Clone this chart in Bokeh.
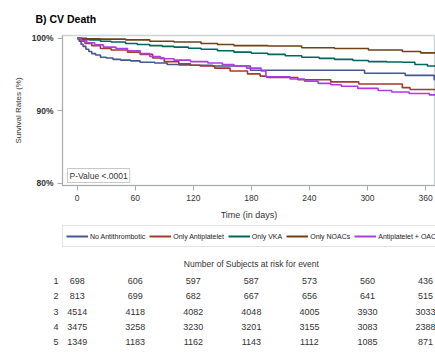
from bokeh.plotting import figure
from bokeh.models import Range1d, Label, Legend, LegendItem, FixedTicker
from bokeh.layouts import column
from bokeh.embed import file_html
from bokeh.resources import INLINE
from bokeh.core.properties import value

FONT = "Liberation Sans"

# ---- data ----
groups = ["No Antithrombotic", "Only Antiplatelet", "Only VKA", "Only NOACs", "Antiplatelet + OAC"]
colors = ["#445694", "#A23A2E", "#01665E", "#6E4216", "#AD3CE2"]

t_none = [0, 2, 4, 6, 9, 12, 15, 19, 24, 30, 37, 45, 55, 65, 80, 93, 105, 117, 140, 179, 297, 339, 369, 371]
s_none = [100, 99.6, 99.2, 98.9, 98.5, 98.2, 97.9, 97.7, 97.4, 97.3, 97.1, 97.0, 96.9, 96.7, 96.6, 96.4, 96.35, 96.3, 96.2, 95.6, 95.2, 94.9, 94.3, 94.3]

t_antiplt = [0, 3, 8, 15, 24, 35, 52, 65, 78, 90, 105, 117, 127, 142, 158, 176, 189, 196, 228, 262, 291, 336, 344, 371]
s_antiplt = [100, 99.6, 99.3, 99.0, 98.6, 98.4, 98.1, 97.8, 97.3, 96.8, 96.5, 96.3, 96.2, 95.9, 95.5, 95.1, 94.8, 94.6, 94.3, 94.0, 93.7, 93.2, 92.95, 92.95]

t_vka = [0, 5, 12, 24, 35, 50, 62, 75, 88, 100, 115, 128, 145, 162, 180, 197, 215, 232, 250, 266, 285, 301, 320, 336, 349, 362, 371]
s_vka = [100, 99.9, 99.8, 99.6, 99.5, 99.3, 99.15, 99.0, 98.9, 98.8, 98.65, 98.5, 98.3, 98.1, 97.95, 97.8, 97.6, 97.4, 97.25, 97.1, 96.95, 96.8, 96.75, 96.7, 96.4, 96.2, 96.2]

t_noac = [0, 10, 24, 50, 75, 100, 128, 145, 162, 197, 232, 266, 301, 336, 355, 371]
s_noac = [100, 99.95, 99.9, 99.8, 99.6, 99.5, 99.3, 99.15, 99.0, 98.95, 98.7, 98.6, 98.4, 98.2, 98.0, 98.0]

t_combo = [0, 4, 10, 18, 27, 40, 52, 65, 75, 86, 100, 117, 135, 150, 162, 175, 190, 195, 220, 235, 249, 262, 273, 290, 311, 325, 343, 364, 371]
s_combo = [100, 99.7, 99.4, 99.1, 98.8, 98.6, 98.3, 97.9, 97.5, 97.2, 97.0, 96.8, 96.6, 96.4, 96.2, 95.9, 95.5, 94.7, 94.4, 94.1, 93.8, 93.6, 93.4, 93.1, 92.8, 92.6, 92.4, 92.2, 92.2]

times = [t_none, t_antiplt, t_vka, t_noac, t_combo]
surv = [s_none, s_antiplt, s_vka, s_noac, s_combo]

x_ticks = [0, 60, 120, 180, 240, 300, 360]
y_ticks = [80, 90, 100]
y_tick_labels = ["80%", "90%", "100%"]

risk_rows = ["1", "2", "3", "4", "5"]
at_risk = [
    [698, 606, 597, 587, 573, 560, 436],
    [813, 699, 682, 667, 656, 641, 515],
    [4514, 4118, 4082, 4048, 4005, 3930, 3033],
    [3475, 3258, 3230, 3201, 3155, 3083, 2388],
    [1349, 1183, 1162, 1143, 1112, 1085, 871],
]
p_value_text = "P-Value <.0001"
risk_title = "Number of Subjects at risk for event"

# ---- main chart ----
p = figure(width=435, height=222, x_range=Range1d(-15.2, 370.3), y_range=Range1d(79.7, 100.4),
           output_backend="svg", toolbar_location=None,
           min_border_left=62, min_border_right=0, min_border_top=35, min_border_bottom=36)
p.title.text = "B) CV Death"
p.title.text_font = FONT
p.title.text_font_style = "bold"
p.title.text_font_size = "10.5px"
p.title.align = "left"
p.title.offset = -27
p.title.standoff = 21
p.title.text_color = "#000000"

p.xgrid.visible = False
p.ygrid.visible = False
p.outline_line_color = "#cfd3d3"
p.outline_line_width = 1.5

for t, s, c in zip(times, surv, colors):
    p.step(t, s, mode="after", line_color=c, line_width=1.6)

xa = p.xaxis[0]
xa.ticker = FixedTicker(ticks=x_ticks)
xa.axis_label = "Time (in days)"
ya = p.yaxis[0]
ya.ticker = FixedTicker(ticks=y_ticks)
ya.major_label_overrides = {k: v for k, v in zip(y_ticks, y_tick_labels)}
ya.axis_label = "Survival Rates (%)"
for ax in (xa, ya):
    ax.axis_line_color = "#a8acac"
    ax.major_tick_line_color = "#a8acac"
    ax.minor_tick_line_color = None
    ax.major_tick_in = 0
    ax.major_tick_out = 5
    ax.major_label_text_font = FONT
    ax.major_label_text_color = "#333333"
    ax.axis_label_text_font = FONT
    ax.axis_label_text_font_style = "normal"
    ax.axis_label_text_color = "#333333"
xa.major_label_text_font_size = "8.5px"
xa.major_label_standoff = 4
xa.axis_label_text_font_size = "9px"
xa.axis_label_standoff = 6
ya.major_label_text_font_size = "8.5px"
ya.major_label_text_font_style = "bold"
ya.major_label_standoff = 4
ya.axis_label_text_font_size = "8px"
ya.axis_label_standoff = 6

p.add_layout(Label(x=-10.0, y=80.11, text=p_value_text, text_font=FONT, text_font_size="8.5px",
                   text_color="#333333", border_line_color="#c8c8c8", background_fill_color="white",
                   padding=2))

# ---- legend + at-risk table (frame aligned with the chart; y in page pixels) ----
row_y0 = 280.7
row_dy = 15.25
row_y = [row_y0 + i * row_dy for i in range(len(risk_rows))]

p2 = figure(width=435, height=132, x_range=p.x_range, y_range=Range1d(354, 222),
            output_backend="svg", toolbar_location=None,
            min_border_left=62, min_border_right=0, min_border_top=0, min_border_bottom=0,
            x_axis_location=None, y_axis_location="left")
p2.xgrid.visible = False
p2.ygrid.visible = False
p2.outline_line_color = None

ya2 = p2.yaxis[0]
ya2.ticker = FixedTicker(ticks=row_y)
ya2.major_label_overrides = {yy: lab for yy, lab in zip(row_y, risk_rows)}
ya2.axis_line_color = None
ya2.major_tick_line_color = None
ya2.minor_tick_line_color = None
ya2.major_tick_in = 0
ya2.major_tick_out = 0
ya2.major_label_standoff = 4
ya2.major_label_text_font = FONT
ya2.major_label_text_font_size = "9px"
ya2.major_label_text_color = "#333333"

items = []
for g, c in zip(groups, colors):
    r = p2.line(x=[-1000, -999], y=[0, 0], line_color=c, line_width=2)
    items.append(LegendItem(label=g, renderers=[r]))
leg = Legend(items=items, orientation="horizontal", location=(0, 107),
             glyph_width=22, glyph_height=14, label_standoff=2, spacing=4, padding=3, margin=0,
             label_text_font=FONT, label_text_font_size="7px", label_text_color="#222222",
             label_height=14, border_line_color="#c8c8c8", background_fill_alpha=1)
p2.add_layout(leg)

p2.text(x=[180], y=[263], text=[risk_title], text_font=value(FONT),
        text_font_size="8.5px", text_align="center", text_baseline="middle", text_color="#333333")

nx, ny, nt = [], [], []
for yy, vals in zip(row_y, at_risk):
    for d, v in zip(x_ticks, vals):
        nx.append(d); ny.append(yy); nt.append(str(v))
p2.text(x=nx, y=ny, text=nt, text_font=value(FONT), text_font_size="9px",
        text_align="center", text_baseline="middle", text_color="#333333")

layout = column(p, p2, spacing=0)
open("out.html", "w").write(file_html(layout, INLINE))
